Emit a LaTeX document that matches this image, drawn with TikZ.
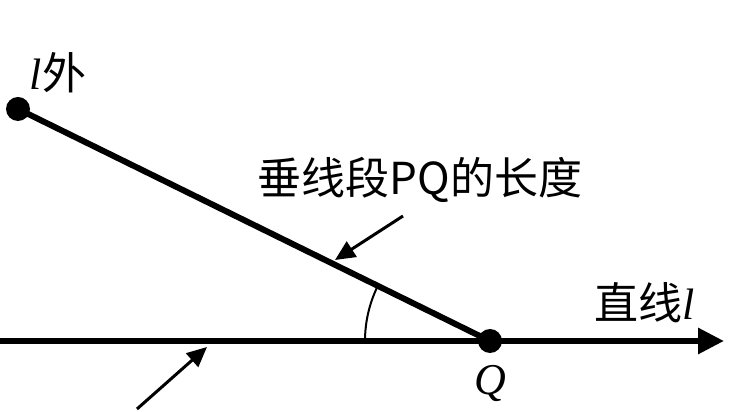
\documentclass[tikz,border=0pt]{standalone}
\usepackage{fontspec}
\newfontfamily\cjk{Noto Sans CJK SC}
\newfontfamily\varfont{Liberation Serif}
\newcommand{\varit}[1]{{\varfont\itshape #1}}
\usetikzlibrary{positioning, arrows.meta}

\begin{document}
\begin{tikzpicture}[x=1pt, y=1pt,
		lbl/.style={font=\cjk\fontsize{44}{48}\selectfont, inner sep=0pt},
		dot/.style={circle, fill=black, minimum size=24pt, inner sep=0pt},
		pointer/.style={line width=3pt, -{Triangle[length=20pt, width=18pt]}}]
		\useasboundingbox (0,0) rectangle (744,412);
		
		\node[dot] (P) at (18,303) {};
		\node[dot] (Q) at (490,71) {};
		\coordinate (lstart) at (0,71);
		\coordinate (lend) at (724,71);
		
		\draw[line width=6pt, -{Triangle[length=26pt, width=25pt]}] (lstart) -- (lend);
		\draw[line width=6pt] (P.center) -- (Q.center);
		\draw[line width=2pt] ([shift={(180:125)}]Q.center) arc[start angle=180, end angle=153.8, radius=125];
		
		\node[lbl] (out) at (58,339) {\varit{l}外};
		\node[lbl] (len) at (420,232) {垂线段PQ的长度};
		\node[lbl] (line) at (645,109) {直线\varit{l}};
		\node[lbl, below=24pt of Q.center] (qlbl) {\varit{Q}};
		
		\coordinate (a1s) at (403,196);
		\coordinate (a1e) at (335,152);
		\coordinate (a2s) at (137,3);
		\coordinate (a2e) at (207,65);
		\draw[pointer] (a1s) -- (a1e);
		\draw[pointer] (a2s) -- (a2e);
	\end{tikzpicture}
\end{document}
